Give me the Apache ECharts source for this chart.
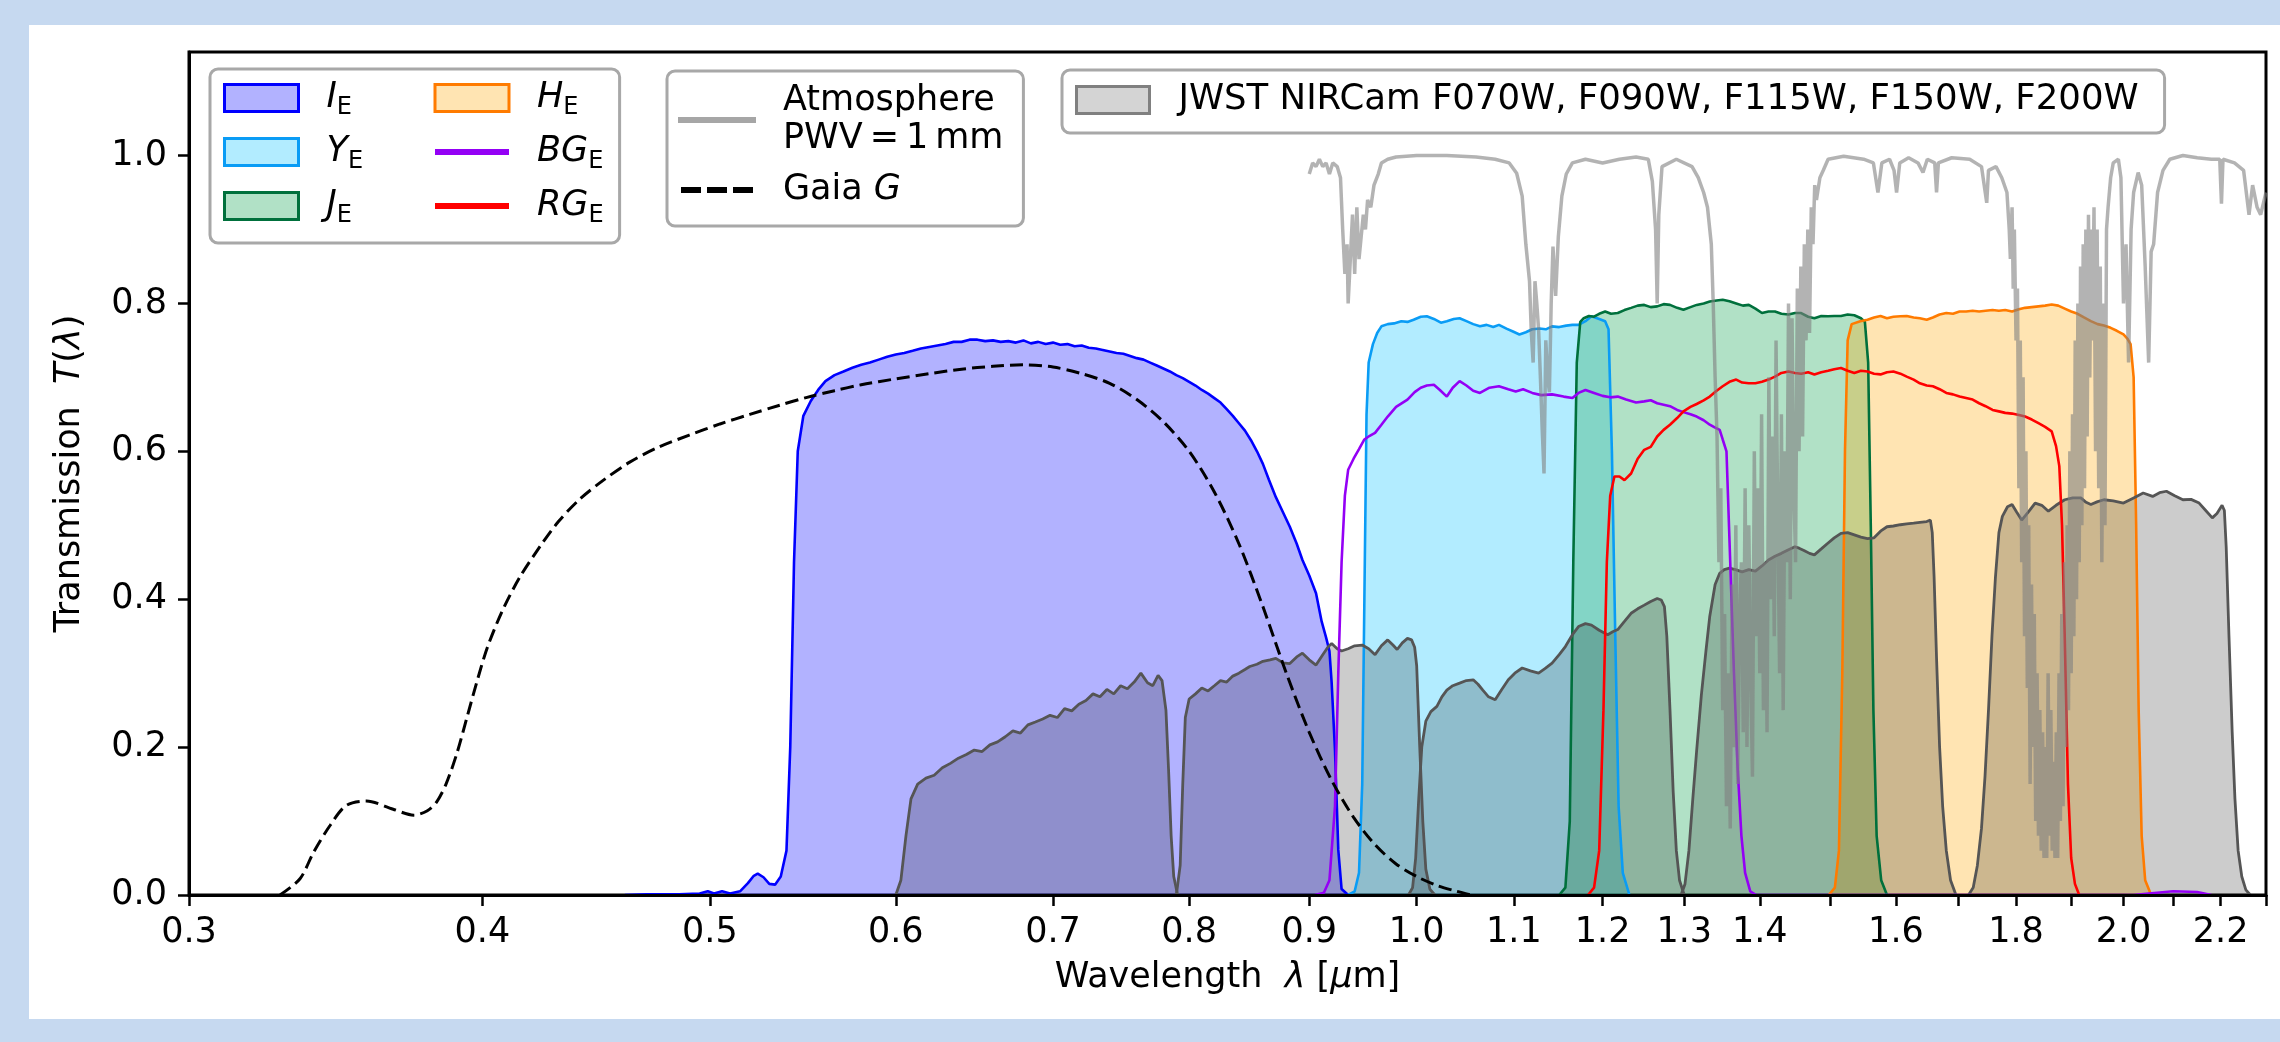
<!DOCTYPE html>
<html><head><meta charset="utf-8">
<script src="https://cdn.jsdelivr.net/npm/echarts@6/dist/echarts.min.js"></script>
<style>
html,body{margin:0;padding:0;background:#c6d9f0;width:2280px;height:1042px;overflow:hidden}
#panel{position:absolute;left:29px;top:25px;width:2251px;height:994px;background:#fff}
#chart{position:absolute;left:0;top:0;width:2280px;height:1042px}
</style></head><body>
<div id="panel"></div><div id="chart"></div>
<script>
// ---------------- data (wavelength in micron, transmission) ----------------
const xTickValues = [0.3,0.4,0.5,0.6,0.7,0.8,0.9,1.0,1.1,1.2,1.3,1.4,1.5,1.6,1.7,1.8,1.9,2.0,2.1,2.2,2.3];
const xLabelValues = [0.3,0.4,0.5,0.6,0.7,0.8,0.9,1.0,1.1,1.2,1.3,1.4,1.6,1.8,2.0,2.2];
const yTickValues = [0,0.2,0.4,0.6,0.8,1.0];

const I_E = [[0.46,0],[0.47,0.001],[0.485,0.001],[0.495,0.002],[0.499,0.005],[0.502,0.002],[0.506,0.005],[0.510,0.002],[0.515,0.005],[0.519,0.016],[0.522,0.026],[0.524,0.029],[0.527,0.024],[0.530,0.015],[0.533,0.014],[0.536,0.025],[0.539,0.06],[0.541,0.2],[0.543,0.45],[0.545,0.6],[0.548,0.648],[0.552,0.668],[0.556,0.683],[0.56,0.695],[0.565,0.703],[0.57,0.708],[0.575,0.713],[0.58,0.717],[0.585,0.72],[0.59,0.724],[0.595,0.728],[0.60,0.731],[0.605,0.733],[0.61,0.736],[0.615,0.739],[0.62,0.741],[0.625,0.743],[0.63,0.745],[0.635,0.748],[0.64,0.748],[0.645,0.751],[0.65,0.751],[0.655,0.749],[0.66,0.75],[0.665,0.748],[0.67,0.749],[0.675,0.747],[0.68,0.75],[0.685,0.746],[0.69,0.748],[0.695,0.745],[0.70,0.747],[0.705,0.744],[0.71,0.745],[0.715,0.742],[0.72,0.743],[0.725,0.74],[0.73,0.739],[0.735,0.737],[0.74,0.735],[0.745,0.733],[0.75,0.732],[0.755,0.729],[0.76,0.726],[0.765,0.724],[0.77,0.72],[0.775,0.716],[0.78,0.712],[0.785,0.708],[0.79,0.703],[0.795,0.699],[0.80,0.694],[0.805,0.689],[0.81,0.683],[0.815,0.678],[0.82,0.672],[0.825,0.666],[0.83,0.657],[0.835,0.648],[0.84,0.638],[0.845,0.628],[0.85,0.615],[0.855,0.6],[0.86,0.583],[0.865,0.562],[0.871,0.538],[0.877,0.518],[0.883,0.498],[0.889,0.475],[0.894,0.453],[0.900,0.432],[0.906,0.408],[0.911,0.37],[0.915,0.348],[0.918,0.33],[0.920,0.287],[0.923,0.196],[0.926,0.061],[0.929,0.008],[0.935,0]];

const Y_E = [[0.935,0],[0.941,0.005],[0.945,0.03],[0.948,0.15],[0.950,0.4],[0.952,0.65],[0.954,0.72],[0.958,0.745],[0.962,0.76],[0.966,0.769],[0.972,0.772],[0.978,0.773],[0.985,0.776],[0.991,0.775],[0.997,0.778],[1.004,0.782],[1.010,0.7826],[1.017,0.779],[1.024,0.774],[1.030,0.776],[1.037,0.779],[1.043,0.78],[1.050,0.776],[1.057,0.772],[1.064,0.769],[1.071,0.771],[1.078,0.768],[1.084,0.771],[1.092,0.766],[1.099,0.762],[1.106,0.758],[1.113,0.761],[1.120,0.765],[1.128,0.766],[1.135,0.765],[1.142,0.769],[1.150,0.768],[1.158,0.770],[1.165,0.771],[1.172,0.771],[1.180,0.776],[1.187,0.7826],[1.196,0.779],[1.203,0.776],[1.207,0.765],[1.211,0.6],[1.215,0.35],[1.219,0.12],[1.224,0.03],[1.232,0]];

const J_E = [[1.150,0],[1.157,0.01],[1.162,0.1],[1.166,0.45],[1.170,0.72],[1.174,0.775],[1.178,0.780],[1.184,0.783],[1.190,0.782],[1.196,0.786],[1.203,0.789],[1.210,0.786],[1.218,0.787],[1.226,0.791],[1.234,0.794],[1.242,0.797],[1.250,0.798],[1.258,0.795],[1.266,0.796],[1.274,0.799],[1.282,0.798],[1.291,0.794],[1.299,0.7915],[1.308,0.795],[1.316,0.798],[1.325,0.80],[1.333,0.8025],[1.342,0.804],[1.350,0.805],[1.359,0.803],[1.368,0.80],[1.377,0.797],[1.385,0.798],[1.394,0.793],[1.403,0.787],[1.412,0.789],[1.421,0.789],[1.430,0.786],[1.440,0.785],[1.449,0.787],[1.458,0.787],[1.468,0.782],[1.477,0.780],[1.487,0.783],[1.497,0.7826],[1.506,0.783],[1.516,0.783],[1.526,0.785],[1.536,0.784],[1.546,0.78],[1.552,0.775],[1.557,0.72],[1.561,0.5],[1.565,0.25],[1.570,0.08],[1.577,0.02],[1.586,0]];

const H_E = [[1.498,0],[1.507,0.01],[1.513,0.06],[1.518,0.3],[1.522,0.6],[1.526,0.75],[1.532,0.772],[1.545,0.776],[1.556,0.778],[1.566,0.781],[1.576,0.783],[1.586,0.780],[1.596,0.782],[1.607,0.7826],[1.617,0.783],[1.628,0.781],[1.638,0.780],[1.649,0.778],[1.659,0.781],[1.670,0.785],[1.681,0.787],[1.692,0.786],[1.703,0.789],[1.714,0.789],[1.725,0.790],[1.736,0.789],[1.747,0.790],[1.759,0.791],[1.770,0.790],[1.781,0.791],[1.793,0.789],[1.805,0.792],[1.816,0.794],[1.828,0.795],[1.840,0.796],[1.852,0.797],[1.864,0.7985],[1.876,0.797],[1.888,0.793],[1.900,0.789],[1.912,0.786],[1.924,0.781],[1.937,0.776],[1.950,0.772],[1.962,0.770],[1.975,0.767],[1.987,0.763],[2.000,0.758],[2.008,0.752],[2.014,0.745],[2.020,0.70],[2.025,0.5],[2.030,0.25],[2.036,0.08],[2.043,0.02],[2.055,0]];

const BG_E = [[0.905,0],[0.913,0.003],[0.918,0.02],[0.923,0.12],[0.926,0.3],[0.929,0.45],[0.932,0.54],[0.935,0.575],[0.940,0.59],[0.945,0.603],[0.950,0.616],[0.955,0.621],[0.960,0.625],[0.966,0.636],[0.972,0.647],[0.980,0.66],[0.991,0.670],[0.998,0.68],[1.004,0.686],[1.010,0.689],[1.017,0.690],[1.023,0.683],[1.030,0.674],[1.036,0.686],[1.043,0.695],[1.050,0.689],[1.057,0.682],[1.064,0.679],[1.074,0.686],[1.084,0.688],[1.094,0.684],[1.102,0.681],[1.110,0.684],[1.120,0.679],[1.130,0.676],[1.142,0.677],[1.155,0.674],[1.165,0.672],[1.172,0.679],[1.180,0.683],[1.190,0.679],[1.200,0.675],[1.209,0.673],[1.218,0.674],[1.228,0.670],[1.240,0.666],[1.250,0.6675],[1.258,0.669],[1.266,0.665],[1.274,0.663],[1.282,0.661],[1.291,0.656],[1.299,0.653],[1.308,0.65],[1.316,0.647],[1.325,0.642],[1.333,0.636],[1.340,0.632],[1.346,0.629],[1.350,0.616],[1.355,0.6],[1.360,0.45],[1.365,0.3],[1.370,0.17],[1.375,0.08],[1.380,0.03],[1.387,0.005],[1.395,0],[2.02,0],[2.05,0.002],[2.10,0.005],[2.15,0.004],[2.18,0]];

const RG_E = [[1.183,0],[1.190,0.01],[1.196,0.06],[1.201,0.25],[1.205,0.45],[1.209,0.54],[1.214,0.566],[1.220,0.566],[1.226,0.561],[1.234,0.57],[1.242,0.59],[1.250,0.602],[1.258,0.606],[1.266,0.62],[1.274,0.629],[1.282,0.636],[1.291,0.645],[1.299,0.654],[1.308,0.66],[1.316,0.664],[1.325,0.669],[1.333,0.674],[1.342,0.682],[1.350,0.688],[1.359,0.694],[1.368,0.697],[1.376,0.693],[1.385,0.692],[1.394,0.692],[1.403,0.694],[1.412,0.697],[1.421,0.701],[1.430,0.706],[1.440,0.708],[1.449,0.706],[1.458,0.705],[1.468,0.707],[1.477,0.704],[1.487,0.707],[1.497,0.709],[1.506,0.711],[1.516,0.7127],[1.526,0.709],[1.536,0.706],[1.546,0.709],[1.556,0.708],[1.566,0.705],[1.576,0.704],[1.586,0.707],[1.596,0.708],[1.607,0.705],[1.617,0.701],[1.628,0.697],[1.638,0.692],[1.649,0.689],[1.659,0.688],[1.670,0.684],[1.681,0.679],[1.692,0.677],[1.703,0.674],[1.714,0.672],[1.725,0.670],[1.736,0.665],[1.747,0.661],[1.759,0.656],[1.770,0.654],[1.781,0.652],[1.793,0.651],[1.805,0.649],[1.816,0.647],[1.828,0.643],[1.840,0.638],[1.852,0.633],[1.864,0.627],[1.872,0.607],[1.878,0.58],[1.883,0.5],[1.888,0.35],[1.894,0.15],[1.900,0.05],[1.907,0.015],[1.915,0]];

const F070W = [[0.600,0],[0.603,0.02],[0.606,0.08],[0.609,0.13],[0.613,0.15],[0.618,0.158],[0.623,0.162],[0.628,0.172],[0.633,0.178],[0.638,0.185],[0.643,0.19],[0.648,0.196],[0.653,0.194],[0.658,0.203],[0.663,0.207],[0.668,0.214],[0.673,0.222],[0.678,0.219],[0.683,0.23],[0.688,0.234],[0.693,0.238],[0.698,0.243],[0.703,0.24],[0.708,0.252],[0.713,0.249],[0.718,0.258],[0.723,0.263],[0.728,0.272],[0.733,0.268],[0.738,0.278],[0.743,0.272],[0.748,0.283],[0.753,0.279],[0.758,0.288],[0.763,0.30],[0.768,0.287],[0.772,0.283],[0.776,0.297],[0.779,0.29],[0.782,0.25],[0.784,0.17],[0.786,0.08],[0.788,0.025],[0.791,0]];
const F090W = [[0.790,0],[0.793,0.04],[0.795,0.15],[0.797,0.24],[0.800,0.265],[0.805,0.272],[0.810,0.28],[0.815,0.276],[0.820,0.283],[0.825,0.29],[0.830,0.288],[0.835,0.296],[0.840,0.30],[0.845,0.305],[0.849,0.309],[0.855,0.312],[0.860,0.316],[0.866,0.318],[0.871,0.32],[0.877,0.314],[0.883,0.313],[0.889,0.322],[0.894,0.327],[0.900,0.318],[0.906,0.311],[0.912,0.325],[0.917,0.336],[0.920,0.34],[0.925,0.333],[0.929,0.33],[0.935,0.333],[0.941,0.337],[0.948,0.338],[0.954,0.333],[0.960,0.325],[0.966,0.337],[0.972,0.345],[0.977,0.338],[0.981,0.332],[0.986,0.341],[0.991,0.347],[0.995,0.345],[0.998,0.335],[1.000,0.31],[1.003,0.2],[1.006,0.1],[1.009,0.035],[1.013,0.008],[1.018,0]];
const F115W = [[0.992,0],[0.996,0.01],[0.999,0.05],[1.002,0.13],[1.005,0.2],[1.009,0.235],[1.014,0.248],[1.020,0.255],[1.025,0.268],[1.030,0.277],[1.036,0.283],[1.043,0.2865],[1.050,0.29],[1.057,0.291],[1.062,0.285],[1.067,0.277],[1.073,0.268],[1.080,0.264],[1.087,0.278],[1.094,0.291],[1.101,0.3],[1.109,0.307],[1.118,0.303],[1.127,0.300],[1.134,0.306],[1.142,0.3135],[1.150,0.325],[1.157,0.336],[1.165,0.352],[1.172,0.363],[1.180,0.367],[1.187,0.365],[1.196,0.358],[1.206,0.352],[1.212,0.356],[1.218,0.359],[1.226,0.37],[1.234,0.381],[1.242,0.387],[1.250,0.392],[1.258,0.397],[1.266,0.401],[1.271,0.399],[1.275,0.39],[1.278,0.35],[1.282,0.25],[1.286,0.14],[1.290,0.06],[1.294,0.02],[1.300,0]];
const F150W = [[1.296,0],[1.301,0.015],[1.306,0.06],[1.311,0.13],[1.316,0.196],[1.322,0.27],[1.328,0.33],[1.333,0.377],[1.340,0.42],[1.346,0.435],[1.352,0.44],[1.359,0.442],[1.367,0.44],[1.376,0.437],[1.385,0.44],[1.394,0.438],[1.403,0.445],[1.412,0.453],[1.421,0.458],[1.430,0.462],[1.440,0.467],[1.449,0.471],[1.455,0.469],[1.462,0.466],[1.470,0.462],[1.477,0.46],[1.487,0.468],[1.497,0.476],[1.506,0.483],[1.516,0.489],[1.526,0.49],[1.536,0.487],[1.546,0.484],[1.556,0.482],[1.566,0.483],[1.576,0.492],[1.586,0.498],[1.596,0.499],[1.607,0.5007],[1.617,0.502],[1.628,0.503],[1.638,0.504],[1.649,0.505],[1.655,0.507],[1.658,0.49],[1.661,0.43],[1.665,0.32],[1.670,0.2],[1.675,0.12],[1.681,0.06],[1.688,0.02],[1.697,0]];
const F200W = [[1.718,0],[1.726,0.01],[1.733,0.04],[1.740,0.09],[1.746,0.16],[1.752,0.25],[1.758,0.35],[1.764,0.43],[1.770,0.49],[1.776,0.512],[1.785,0.525],[1.793,0.528],[1.801,0.518],[1.810,0.507],[1.822,0.518],[1.834,0.53],[1.846,0.527],[1.858,0.519],[1.872,0.527],[1.888,0.5345],[1.903,0.537],[1.918,0.537],[1.928,0.531],[1.937,0.528],[1.950,0.532],[1.962,0.5345],[1.980,0.533],[2.000,0.53],[2.020,0.537],[2.039,0.5436],[2.058,0.539],[2.072,0.544],[2.086,0.546],[2.103,0.54],[2.120,0.5345],[2.137,0.535],[2.154,0.53],[2.168,0.52],[2.182,0.51],[2.192,0.516],[2.203,0.527],[2.208,0.52],[2.212,0.47],[2.218,0.35],[2.225,0.22],[2.231,0.13],[2.238,0.06],[2.246,0.025],[2.255,0.007],[2.265,0]];

const GAIA_G = [[0.328,0],[0.3345,0.022],[0.339,0.058],[0.3445,0.094],[0.350,0.121],[0.357,0.127],[0.3665,0.116],[0.374,0.108],[0.379,0.114],[0.3825,0.126],[0.386,0.15],[0.390,0.19],[0.394,0.24],[0.398,0.29],[0.402,0.335],[0.408,0.385],[0.415,0.43],[0.423,0.47],[0.431,0.505],[0.440,0.535],[0.450,0.56],[0.462,0.585],[0.475,0.605],[0.490,0.622],[0.505,0.637],[0.520,0.65],[0.535,0.662],[0.550,0.673],[0.565,0.682],[0.580,0.69],[0.600,0.698],[0.620,0.705],[0.640,0.711],[0.660,0.715],[0.680,0.717],[0.700,0.714],[0.720,0.705],[0.740,0.692],[0.760,0.67],[0.780,0.64],[0.800,0.60],[0.820,0.545],[0.840,0.475],[0.860,0.39],[0.880,0.30],[0.900,0.22],[0.920,0.155],[0.940,0.105],[0.960,0.068],[0.980,0.042],[1.000,0.025],[1.020,0.013],[1.040,0.005],[1.055,0]];

const ATMOSPHERE = [[0.900,0.975],[0.903,0.99],[0.906,0.985],[0.909,0.995],[0.912,0.985],[0.915,0.99],[0.918,0.975],[0.921,0.99],[0.925,0.985],[0.928,0.97],[0.930,0.9],[0.932,0.84],[0.934,0.88],[0.935,0.80],[0.937,0.86],[0.939,0.92],[0.941,0.84],[0.943,0.93],[0.945,0.86],[0.947,0.89],[0.949,0.92],[0.951,0.90],[0.953,0.94],[0.956,0.93],[0.959,0.96],[0.963,0.975],[0.966,0.99],[0.972,0.995],[0.980,0.998],[1.000,1.0],[1.030,1.0],[1.060,0.998],[1.080,0.995],[1.095,0.99],[1.103,0.976],[1.109,0.945],[1.113,0.88],[1.117,0.83],[1.119,0.76],[1.121,0.72],[1.123,0.83],[1.125,0.80],[1.127,0.765],[1.129,0.70],[1.131,0.63],[1.133,0.57],[1.135,0.75],[1.137,0.70],[1.139,0.68],[1.141,0.80],[1.143,0.877],[1.146,0.81],[1.149,0.89],[1.153,0.945],[1.158,0.975],[1.165,0.99],[1.180,0.995],[1.200,0.99],[1.220,0.995],[1.240,0.998],[1.255,0.995],[1.260,0.965],[1.264,0.90],[1.266,0.80],[1.268,0.92],[1.272,0.985],[1.290,0.995],[1.310,0.985],[1.318,0.97],[1.325,0.95],[1.330,0.93],
  [1.3325,0.93],[1.335,0.88],[1.3375,0.80],[1.340,0.70],[1.3425,0.62],[1.345,0.45],[1.3475,0.55],[1.350,0.25],[1.3525,0.38],[1.355,0.12],[1.3575,0.3],[1.360,0.09],[1.3625,0.42],[1.365,0.2],[1.3675,0.5],[1.370,0.15],[1.3725,0.38],[1.375,0.45],[1.3775,0.22],[1.380,0.55],[1.3825,0.2],[1.385,0.5],[1.3875,0.3],[1.390,0.16],[1.3925,0.6],[1.395,0.35],[1.3975,0.55],[1.400,0.3],[1.4025,0.65],[1.405,0.25],[1.4075,0.45],[1.410,0.22],[1.4125,0.7],[1.415,0.4],[1.4175,0.62],[1.420,0.35],[1.4225,0.75],[1.425,0.5],[1.4275,0.3],[1.430,0.65],[1.4325,0.25],[1.435,0.6],[1.4375,0.45],[1.440,0.8],[1.4425,0.4],[1.445,0.78],[1.4475,0.55],[1.450,0.45],[1.4525,0.82],[1.455,0.6],[1.4575,0.85],[1.460,0.62],[1.4625,0.88],[1.465,0.75],[1.4675,0.9],[1.470,0.76],[1.4725,0.93],[1.475,0.88],[1.4775,0.96],[1.480,0.94],[1.485,0.97],[1.490,0.98],
  [1.497,0.995],[1.520,0.999],[1.550,0.995],[1.565,0.99],[1.572,0.95],[1.578,0.99],[1.590,0.995],[1.597,0.98],[1.601,0.95],[1.606,0.99],[1.620,0.997],[1.635,0.99],[1.643,0.977],[1.650,0.995],[1.662,0.99],[1.665,0.95],[1.668,0.99],[1.690,0.997],[1.720,0.995],[1.740,0.985],[1.749,0.936],[1.752,0.98],[1.765,0.985],[1.775,0.97],[1.784,0.95],
  [1.786,0.95],[1.788,0.9],[1.790,0.86],[1.793,0.93],[1.795,0.82],[1.797,0.9],[1.800,0.75],[1.8025,0.82],[1.805,0.55],[1.8075,0.75],[1.810,0.45],[1.8125,0.7],[1.815,0.35],[1.8175,0.6],[1.820,0.28],[1.8225,0.5],[1.825,0.15],[1.8275,0.42],[1.830,0.2],[1.8325,0.38],[1.835,0.1],[1.8375,0.3],[1.840,0.08],[1.8425,0.25],[1.845,0.06],[1.8475,0.22],[1.850,0.05],[1.8525,0.2],[1.855,0.05],[1.8575,0.3],[1.860,0.08],[1.8625,0.25],[1.865,0.06],[1.8675,0.18],[1.870,0.05],[1.8725,0.22],[1.875,0.05],[1.8775,0.3],[1.880,0.1],[1.8825,0.38],[1.885,0.12],[1.8875,0.45],[1.890,0.2],[1.8925,0.5],[1.895,0.25],[1.8975,0.6],[1.900,0.3],[1.9025,0.65],[1.905,0.35],[1.9075,0.75],[1.910,0.4],[1.9125,0.8],[1.915,0.45],[1.9175,0.85],[1.920,0.5],[1.9225,0.88],[1.925,0.55],[1.9275,0.9],[1.930,0.62],[1.9325,0.92],[1.935,0.7],[1.9375,0.9],[1.940,0.75],[1.943,0.93],[1.946,0.6],[1.949,0.9],[1.952,0.55],[1.955,0.85],[1.958,0.45],[1.961,0.8],[1.964,0.5],[1.967,0.9],[1.970,0.93],[1.975,0.97],
  [1.980,0.99],[1.990,0.995],[1.995,0.97],[2.000,0.8],[2.005,0.88],[2.010,0.72],[2.015,0.9],[2.020,0.95],[2.029,0.977],[2.036,0.96],[2.043,0.85],[2.050,0.72],[2.055,0.87],[2.060,0.88],[2.068,0.95],[2.079,0.98],[2.093,0.995],[2.120,1.0],[2.150,0.997],[2.180,0.995],[2.198,0.995],[2.2017,0.935],[2.205,0.995],[2.230,0.99],[2.250,0.98],[2.262,0.92],[2.270,0.96],[2.280,0.93],[2.288,0.92],[2.300,0.95]];

const JWST_NAME = 'JWST NIRCam F070W, F090W, F115W, F150W, F200W';

// ---------------- styles ----------------
const F = 'DejaVu Sans';
const COL = {
  I_E:  {edge:'#0000ff', fill:'rgba(0,0,255,0.3)'},
  Y_E:  {edge:'#0a9cf5', fill:'rgba(0,191,255,0.3)'},
  J_E:  {edge:'#00703c', fill:'rgba(60,179,113,0.4)'},
  H_E:  {edge:'#ff7b00', fill:'rgba(255,165,0,0.3)'},
  BG_E: {edge:'#9400f5'},
  RG_E: {edge:'#ff0000'}
};
function band(name, data, c) {
  return {type:'line', name, data, symbol:'none', showSymbol:false, silent:true,
    emphasis:{disabled:true}, animation:false,
    lineStyle:{color:c.edge, width:2.6}, itemStyle:{color:c.edge},
    areaStyle:{color:c.fill, opacity:1}};
}
function jwst(data) {
  return {type:'line', name:JWST_NAME, data, symbol:'none', showSymbol:false, silent:true,
    emphasis:{disabled:true}, animation:false,
    lineStyle:{color:'#555555', width:2.8}, itemStyle:{color:'#555555'},
    areaStyle:{color:'rgba(0,0,0,0.2)', opacity:1}};
}
function line(name, data, color, width, type, smooth) {
  return {type:'line', name, data, symbol:'none', showSymbol:false, silent:true,
    emphasis:{disabled:true}, animation:false, smooth: smooth || false,
    lineStyle:{color, width, type: type || 'solid'}, itemStyle:{color}};
}

const subLabels = {
  I_E:'{it|I}{sub|E}', Y_E:'{it|Y}{sub|E}', J_E:'{it|J}{sub|E}',
  H_E:'{it|H}{sub|E}', BG_E:'{it|BG}{sub|E}', RG_E:'{it|RG}{sub|E}'
};
const richMath = {
  a:{fontFamily:F, fontSize:35, lineHeight:44, color:'#000'},
  it:{fontFamily:F, fontSize:35, fontStyle:'italic', lineHeight:44, color:'#000'},
  sub:{fontFamily:F, fontSize:24, lineHeight:28, verticalAlign:'bottom', color:'#000'}
};
const legendBox = {
  selectedMode:false, orient:'vertical', backgroundColor:'rgba(255,255,255,0.8)',
  borderColor:'#a8a8a8', borderWidth:3, borderRadius:8
};
function patch(name, width) {
  const c = COL[name];
  const item = {name};
  if (c.fill) {
    item.icon = 'rect';
    item.itemStyle = {color:c.fill, borderColor:c.edge, borderWidth:3};
  } else {
    item.icon = 'path://M0,0h74v6h-74z';
    item.itemStyle = {color:c.edge, borderWidth:0};
  }
  if (width) item.textStyle = {width};
  return item;
}

const chart = echarts.init(document.getElementById('chart'), null, {renderer:'canvas'});
chart.setOption({
  animation:false,
  backgroundColor:'transparent',
  grid:{left:189, right:14, top:52, bottom:147, show:true, borderColor:'#000', borderWidth:3, backgroundColor:'transparent'},
  xAxis:{
    type:'log', logBase:10, min:0.3, max:2.3, z:10,
    name:'{a|Wavelength  }{it|λ}{a| [}{it|µ}{a|m]}', nameLocation:'middle', nameGap:61,
    nameTextStyle:{fontFamily:F, fontSize:35, lineHeight:44, color:'#000', rich:richMath},
    axisLine:{show:true, onZero:false, lineStyle:{color:'#000', width:3}},
    axisTick:{show:true, length:11, lineStyle:{color:'#000', width:2.5}, customValues:xTickValues},
    axisLabel:{customValues:xLabelValues, formatter:v => Number(v).toFixed(1), margin:20,
      fontFamily:F, fontSize:35, color:'#000'},
    splitLine:{show:false}, minorTick:{show:false}, minorSplitLine:{show:false}
  },
  yAxis:{
    type:'value', min:0, max:1.14, z:10,
    name:'{a|Transmission  }{it|T}{a|(}{it|λ}{a|)}', nameLocation:'middle', nameRotate:90, nameGap:97,
    nameTextStyle:{fontFamily:F, fontSize:35, lineHeight:44, color:'#000', rich:richMath},
    axisLine:{show:true, onZero:false, lineStyle:{color:'#000', width:3}},
    axisTick:{show:true, length:11, lineStyle:{color:'#000', width:2.5}, customValues:yTickValues},
    axisLabel:{customValues:yTickValues, formatter:v => Number(v).toFixed(1), margin:22,
      fontFamily:F, fontSize:35, color:'#000'},
    splitLine:{show:false}
  },
  legend:[
    Object.assign({}, legendBox, {
      left:210, top:69, height:180, itemWidth:74, itemHeight:27, itemGap:10, padding:[7,16,15,13],
      data:[patch('I_E',97), patch('Y_E',97), patch('J_E',97), patch('H_E'), patch('BG_E'), patch('RG_E')],
      formatter:n => subLabels[n],
      textStyle:{fontFamily:F, fontSize:35, lineHeight:44, color:'#000', padding:[0,0,0,23], rich:richMath}
    }),
    Object.assign({}, legendBox, {
      left:667, top:71, itemWidth:78, itemHeight:6, itemGap:13, padding:[11,20,17,11],
      data:[
        {name:'Atmosphere', icon:'path://M0,0h78v6h-78z', itemStyle:{color:'#a6a6a6', borderWidth:0}},
        {name:'Gaia G', icon:'path://M0,0h20v6h-20zM26,0h20v6h-20zM52,0h20v6h-20z', itemStyle:{color:'#000', borderWidth:0}}
      ],
      formatter:n => n === 'Atmosphere' ? '{b|Atmosphere}\n{b|PWV\u2009=\u20091\u2009mm}' : '{b|Gaia }{bi|G}',
      textStyle:{fontFamily:F, fontSize:35, lineHeight:38, color:'#000', padding:[0,0,0,22],
        rich:{b:{fontFamily:F, fontSize:35, lineHeight:38, color:'#000'},
              bi:{fontFamily:F, fontSize:35, lineHeight:38, fontStyle:'italic', color:'#000'}}}
    }),
    Object.assign({}, legendBox, {
      left:1062, top:70, itemWidth:73, itemHeight:27, padding:[8,26,11,13],
      data:[{name:JWST_NAME, icon:'rect', itemStyle:{color:'#d4d4d4', borderColor:'#808080', borderWidth:3}}],
      textStyle:{fontFamily:F, fontSize:35.5, lineHeight:44, color:'#000', padding:[0,0,0,24]}
    })
  ],
  series:[
    band('I_E', I_E, COL.I_E),
    band('Y_E', Y_E, COL.Y_E),
    band('J_E', J_E, COL.J_E),
    band('H_E', H_E, COL.H_E),
    jwst(F070W), jwst(F090W), jwst(F115W), jwst(F150W), jwst(F200W),
    line('BG_E', BG_E, COL.BG_E.edge, 2.6),
    line('RG_E', RG_E, COL.RG_E.edge, 2.6),
    line('Atmosphere', ATMOSPHERE, 'rgba(128,128,128,0.6)', 3.5),
    line('Gaia G', GAIA_G, '#000', 3, [13,6], 0.3)
  ]
});
</script></body></html>
